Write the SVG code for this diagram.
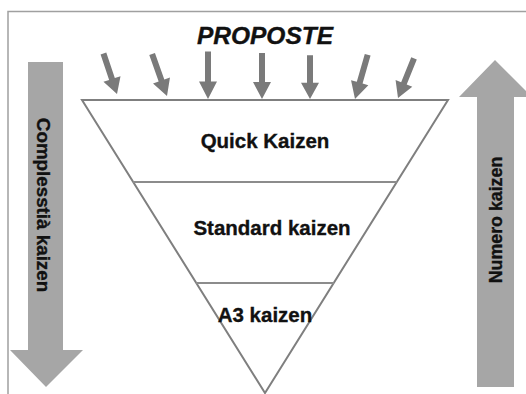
<svg xmlns="http://www.w3.org/2000/svg" width="526" height="394" viewBox="0 0 526 394">
  <defs>
    <style>
      .frame { fill: none; stroke: #a0a0a0; stroke-width: 1.5; }
      .funnel { fill: #ffffff; stroke: #7f7f7f; stroke-width: 2; stroke-linejoin: miter; }
      .divider { stroke: #8c8c8c; stroke-width: 2; }
      .big-arrow { fill: #a6a6a6; }
      .small-arrow { fill: #7a7a7a; }
      .label { font-family: "Liberation Sans", Arial, sans-serif; font-weight: bold; fill: #111111; stroke: #111111; stroke-width: 0.35; text-anchor: middle; }
    </style>
    <!-- input arrow pointing down, tip at origin -->
    <path id="inArrow" d="M -3 -46 L 3 -46 L 3 -17 L 9 -17 L 0 0 L -9 -17 L -3 -17 Z"/>
  </defs>

  <!-- page frame -->
  <path class="frame" d="M 8 394 L 8 11.5 L 526 11.5"/>

  <g id="proposte">
    <text class="label" x="265" y="44" font-size="24.5" font-style="italic">PROPOSTE</text>
  </g>

  <!-- incoming proposals -->
  <g id="connectors" class="small-arrow">
    <use href="#inArrow" transform="translate(117,94) rotate(-18.5) scale(1,0.93)"/>
    <use href="#inArrow" transform="translate(167,96) rotate(-19.5) scale(1,0.97)"/>
    <use href="#inArrow" transform="translate(208,99) scale(1,1.03)"/>
    <use href="#inArrow" transform="translate(262,99) scale(1,1.0)"/>
    <use href="#inArrow" transform="translate(310,99) scale(1,0.95)"/>
    <use href="#inArrow" transform="translate(355,99) rotate(16) scale(1,1.0)"/>
    <use href="#inArrow" transform="translate(398,98) rotate(22) scale(1,0.93)"/>
  </g>

  <g id="funnel">
    <polygon class="funnel" points="82,100 448,100 265,393"/>
  </g>

  <g id="quick-kaizen">
    <text class="label" x="265" y="148" font-size="20.5">Quick Kaizen</text>
  </g>

  <g id="standard-kaizen">
    <line class="divider" x1="133" y1="182" x2="397" y2="182"/>
    <text class="label" x="272" y="235" font-size="20.5">Standard kaizen</text>
  </g>

  <g id="a3-kaizen">
    <line class="divider" x1="196" y1="283" x2="334" y2="283"/>
    <text class="label" x="265" y="322" font-size="20.5">A3 kaizen</text>
  </g>

  <g id="complessita">
    <polygon class="big-arrow" points="28,62 63,62 63,350 83,350 46,387 10,350 28,350"/>
    <text class="label" transform="translate(37,205) rotate(90)" font-size="18.8">Complesstià kaizen</text>
  </g>

  <g id="numero">
    <polygon class="big-arrow" points="495,60 532,97 514,97 514,387 477,387 477,97 459,97"/>
    <text class="label" transform="translate(502,220) rotate(-90)" font-size="17.8">Numero kaizen</text>
  </g>
</svg>
